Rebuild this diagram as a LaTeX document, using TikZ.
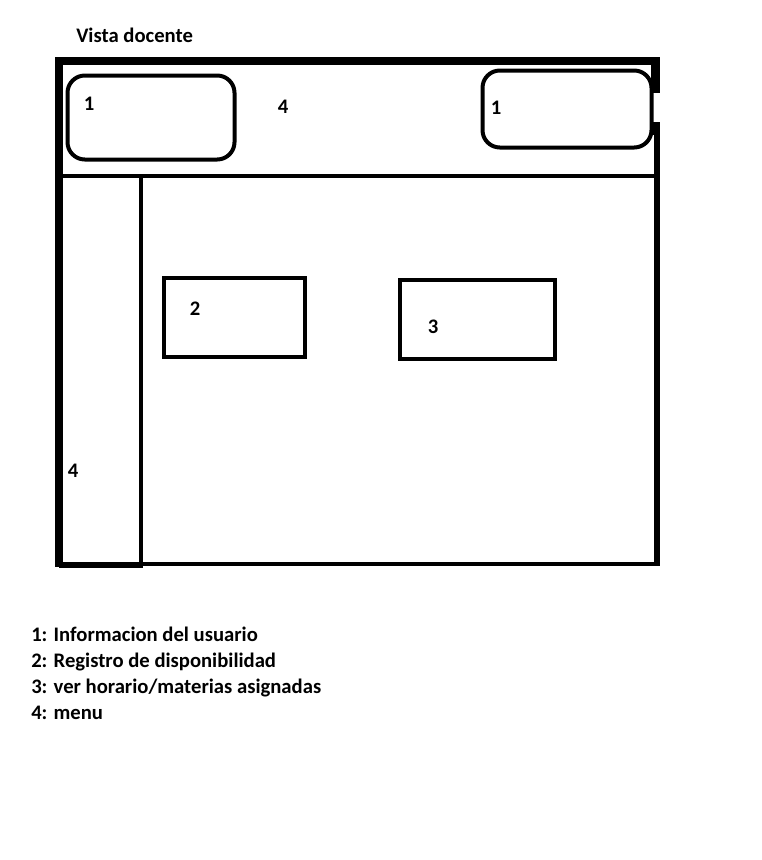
\documentclass[tikz,border=0pt]{standalone}
\usepackage{fontspec}
\setmainfont{Carlito}
\begin{document}
\begin{tikzpicture}[
    x=0.75pt, y=-0.75pt,
    wall/.style={line width=6pt},
    thinwall/.style={line width=3pt},
    panel/.style={line width=3pt, rounded corners=13pt},
    widget/.style={line width=3pt},
    tag/.style={font=\bfseries\fontsize{15.5}{18}\selectfont, inner sep=0pt},
    legend/.style={font=\bfseries\fontsize{15.5}{19.5}\selectfont, align=left, inner sep=0pt}
]
\useasboundingbox (0,0) rectangle (761,860);

% window frame
\draw[wall] (55,61) -- (660,61);
\draw[wall] (59,57) -- (59,567);
\draw[line width=7pt] (655.5,57) -- (655.5,93);
\draw[line width=5.5pt] (656,122) -- (656,135);
\draw[line width=4pt] (657,130) -- (657,566);
\draw[thinwall] (62,175.5) -- (656,175.5);
\draw[thinwall] (141,175) -- (141,567);
\draw[line width=4.5pt] (59,564.5) -- (143,564.5);
\draw[thinwall] (141,563.5) -- (659,563.5);

% header panels
\draw[panel] (67.5,75.5) rectangle (234.5,159.5);
\draw[panel] (482.5,70.5) rectangle (651.5,147.5);

% content widgets
\draw[widget] (163.5,277.5) rectangle (304.5,356.5);
\draw[widget] (399.5,279.5) rectangle (554.5,358.5);

% labels
\node[tag, anchor=west] (title) at (76,35) {Vista docente};
\node[tag] (userL) at (89,104) {1};
\node[tag] (menuT) at (283,107) {4};
\node[tag] (userR) at (496,108) {1};
\node[tag] (avail) at (195,309) {2};
\node[tag] (sched) at (433,327) {3};
\node[tag] (menuL) at (73,471) {4};

\node[legend, anchor=north west] (key) at (31,627) {1: Informacion del usuario\\
2: Registro de disponibilidad\\
3: ver horario/materias asignadas\\
4: menu};
\end{tikzpicture}
\end{document}
